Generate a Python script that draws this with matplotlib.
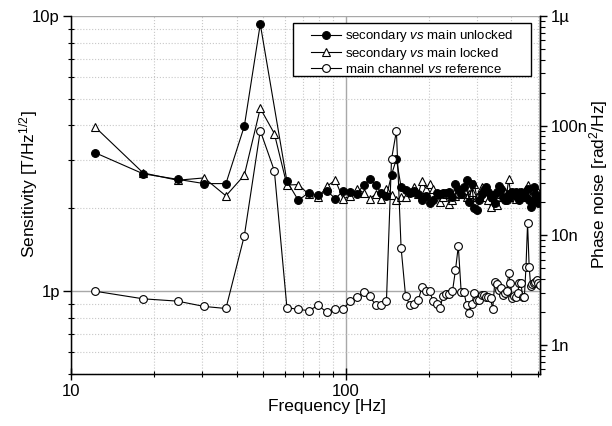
import numpy as np
import matplotlib
matplotlib.use("Agg")
import matplotlib.pyplot as plt
from matplotlib.ticker import FixedLocator, NullFormatter, FixedFormatter, LogLocator
from matplotlib.patches import Rectangle

plt.rcParams['font.family'] = ['Liberation Sans', 'DejaVu Sans']
plt.rcParams['mathtext.fontset'] = 'custom'
plt.rcParams['mathtext.rm'] = 'Liberation Sans'
plt.rcParams['mathtext.it'] = 'Liberation Sans:italic'

# Frequency [Hz]
freq = [12.2, 18.3, 24.4, 30.5, 36.6, 42.7, 48.8, 54.9, 61.0, 67.1,
        73.2, 79.3, 85.4, 91.5, 97.6, 103.7, 109.8, 115.9, 122.1, 128.2,
        134.3, 140.4, 146.5, 152.6, 158.7, 164.8, 170.9, 177.0, 183.1, 189.2,
        195.3, 201.4, 207.5, 213.6, 219.7, 225.8, 231.9, 238.0, 244.1, 250.2,
        256.3, 262.5, 268.6, 274.7, 280.8, 286.9, 293.0, 299.1, 305.2, 311.3,
        317.4, 323.5, 329.6, 335.7, 341.8, 347.9, 354.0, 360.1, 366.2, 372.3,
        378.4, 384.5, 390.6, 396.7, 402.8, 408.9, 415.0, 421.1, 427.2, 433.3,
        439.5, 445.6, 451.7, 457.8, 463.9, 470.0, 476.1, 482.2, 488.3, 494.4,
        500.5, 506.6]

# Sensitivity [pT/Hz^1/2]
unlocked = [3.19, 2.67, 2.55, 2.46, 2.46, 3.98, 9.35, np.nan, 2.51, 2.14,
            2.28, 2.23, 2.31, 2.17, 2.31, 2.30, 2.26, 2.43, 2.55, 2.43,
            2.28, 2.21, 2.65, 3.02, 2.39, 2.33, 2.28, 2.31, 2.26, 2.14,
            2.22, 2.09, 2.15, 2.28, 2.25, 2.28, 2.28, 2.30, 2.20, 2.46,
            2.35, 2.25, 2.40, 2.53, 2.11, 2.45, 2.00, 1.97, 2.14, 2.25,
            2.33, 2.40, 2.30, 2.20, 2.23, 2.10, 2.30, 2.41, 2.35, 2.20,
            2.15, 2.14, 2.25, 2.20, 2.30, 2.25, 2.30, 2.20, 2.15, 2.30,
            2.25, 2.26, 2.20, 2.35, 2.15, 2.03, 2.11, 2.39, 2.25, 2.17,
            2.10, 2.20]

locked = [3.96, 2.69, 2.53, 2.58, 2.22, 2.64, 4.62, 3.74, 2.43, 2.44,
          2.25, 2.19, 2.41, 2.53, 2.17, 2.21, 2.36, 2.28, 2.17, 2.25,
          2.17, 2.36, 2.23, 2.14, 2.20, 2.20, 2.30, 2.39, 2.25, 2.52,
          2.35, 2.45, 2.36, 2.25, 2.11, 2.20, 2.25, 2.08, 2.15, 2.22,
          2.28, 2.25, 2.34, 2.20, 2.25, 2.30, 2.45, 2.20, 2.25, 2.39,
          2.30, 2.20, 2.15, 2.03, 2.20, 2.25, 2.06, 2.20, 2.25, 2.20,
          2.30, 2.25, 2.55, 2.30, 2.20, 2.25, 2.17, 2.25, 2.30, 2.20,
          2.25, 2.30, 2.35, 2.43, 2.25, 2.20, 2.25, 2.36, 2.26, 2.20,
          2.30, 2.25]

reference = [1.0, 0.938, 0.92, 0.88, 0.865, 1.59, 3.83, 2.74, 0.872, 0.858,
             0.85, 0.887, 0.837, 0.858, 0.86, 0.92, 0.951, 0.99, 0.959, 0.89,
             0.89, 0.922, 3.02, 3.82, 1.44, 0.959, 0.89, 0.899, 0.925, 1.036,
             1.0, 1.0, 0.92, 0.897, 0.872, 0.959, 0.975, 0.975, 1.0, 1.19,
             1.46, 0.994, 0.994, 0.892, 0.83, 0.90, 0.986, 0.927, 0.927, 0.967,
             0.967, 0.949, 0.949, 0.941, 0.862, 1.081, 1.06, 1.008, 1.023, 0.967,
             0.986, 1.0, 1.166, 1.067, 0.941, 0.96, 0.949, 0.986, 1.067, 1.067,
             0.95, 0.949, 1.226, 1.764, 1.226, 1.043, 1.06, 1.07, 1.081, 1.096,
             1.07, 1.05]

labels = [r'secondary $\it{vs}$ main unlocked',
          r'secondary $\it{vs}$ main locked',
          r'main channel $\it{vs}$ reference']

x_ticks = [10, 100]
x_ticklabels = ['10', '100']
left_ticks = [1, 10]
left_ticklabels = ['1p', '10p']
right_ticks = [1e-9, 1e-8, 1e-7, 1e-6]
right_ticklabels = ['1n', '10n', '100n', '1µ']

W, H = 612, 426
fig = plt.figure(figsize=(W/100, H/100), dpi=100)
L, R, T, B = 71, 540, 16, 374
ax = fig.add_axes([L/W, 1-B/H, (R-L)/W, (B-T)/H])

f = np.array(freq)
u = np.array(unlocked)
m = np.isfinite(u)

kw = dict(color='black', lw=0.8, ms=5.6, mec='black', mew=0.8)
l2, = ax.plot(f, locked, marker='^', mfc='white', zorder=3, label=labels[1], **kw)
l1, = ax.plot(f[m], u[m], marker='o', mfc='black', zorder=4, label=labels[0], **kw)
l3, = ax.plot(f, reference, marker='o', mfc='white', zorder=5, label=labels[2], **kw)

ax.set_xscale('log')
ax.set_yscale('log')
ax.set_xlim(10, 508)
ax.set_ylim(0.5, 10)

ax.xaxis.set_major_locator(FixedLocator(x_ticks))
ax.xaxis.set_major_formatter(FixedFormatter(x_ticklabels))
ax.xaxis.set_minor_locator(LogLocator(base=10, subs=np.arange(2, 10), numticks=20))
ax.xaxis.set_minor_formatter(NullFormatter())
ax.yaxis.set_major_locator(FixedLocator(left_ticks))
ax.yaxis.set_major_formatter(FixedFormatter(left_ticklabels))
ax.yaxis.set_minor_locator(LogLocator(base=10, subs=np.arange(2, 10), numticks=20))
ax.yaxis.set_minor_formatter(NullFormatter())

ax.grid(which='major', color='#a8a8a8', lw=1.0, ls='-', zorder=0)
ax.grid(which='minor', color='#c8c8c8', lw=0.8, ls=':', zorder=0)
ax.set_axisbelow(True)

ax.spines['top'].set_visible(False)
for s in ['left', 'bottom', 'right']:
    ax.spines[s].set_linewidth(1.0)

ax.tick_params(axis='y', which='major', direction='out', length=6, width=1, labelsize=12, pad=2)
ax.tick_params(axis='y', which='minor', direction='inout', length=5, width=0.8)
ax.tick_params(axis='x', which='major', direction='inout', length=8, width=1, labelsize=12, pad=3)
ax.tick_params(axis='x', which='minor', direction='inout', length=5, width=0.8)

ax.set_xlabel('Frequency [Hz]', fontsize=12.5)
ax.xaxis.set_label_coords(0.546, (B-399)/(B-T))
ax.set_ylabel(r'Sensitivity [T/Hz$^{1/2}$]', fontsize=12.5)
ax.yaxis.set_label_coords((40-L)/(R-L), 0.53)

ax2 = ax.twinx()
ax2.set_yscale('log')
ax2.set_ylim(10**(-9 - 29/109.7), 1e-6)
ax2.yaxis.set_major_locator(FixedLocator(right_ticks))
ax2.yaxis.set_major_formatter(FixedFormatter(right_ticklabels))
ax2.yaxis.set_minor_locator(LogLocator(base=10, subs=np.arange(2, 10), numticks=20))
ax2.yaxis.set_minor_formatter(NullFormatter())
ax2.spines['top'].set_visible(False)
ax2.spines['right'].set_linewidth(1.0)
ax2.tick_params(axis='y', which='major', direction='out', length=5, width=1, labelsize=12, pad=3)
ax2.tick_params(axis='y', which='minor', direction='out', length=3.5, width=0.8)
ax2.set_ylabel(r'Phase noise [rad$^2$/Hz]', fontsize=12.5)
ax2.yaxis.set_label_coords((587-L)/(R-L), 0.53)

# legend box (drawn separately for wide side padding)
bx0, bx1, by0, by1 = 293, 531, 23, 76
box = Rectangle((bx0/W, 1-by1/H), (bx1-bx0)/W, (by1-by0)/H,
                transform=fig.transFigure, facecolor='white',
                edgecolor='black', lw=1.0, zorder=9, clip_on=False)
ax2.add_artist(box)
leg = ax2.legend(handles=[l1, l2, l3], loc='center',
                 bbox_to_anchor=((bx0+bx1)/2/W, 1-52/H), bbox_transform=fig.transFigure,
                 fontsize=9.5, frameon=False, handlelength=2.3, handletextpad=0.25,
                 labelspacing=0.1, borderpad=0.0, borderaxespad=0)
leg.set_zorder(11)

fig.savefig('out.png', dpi=100)
